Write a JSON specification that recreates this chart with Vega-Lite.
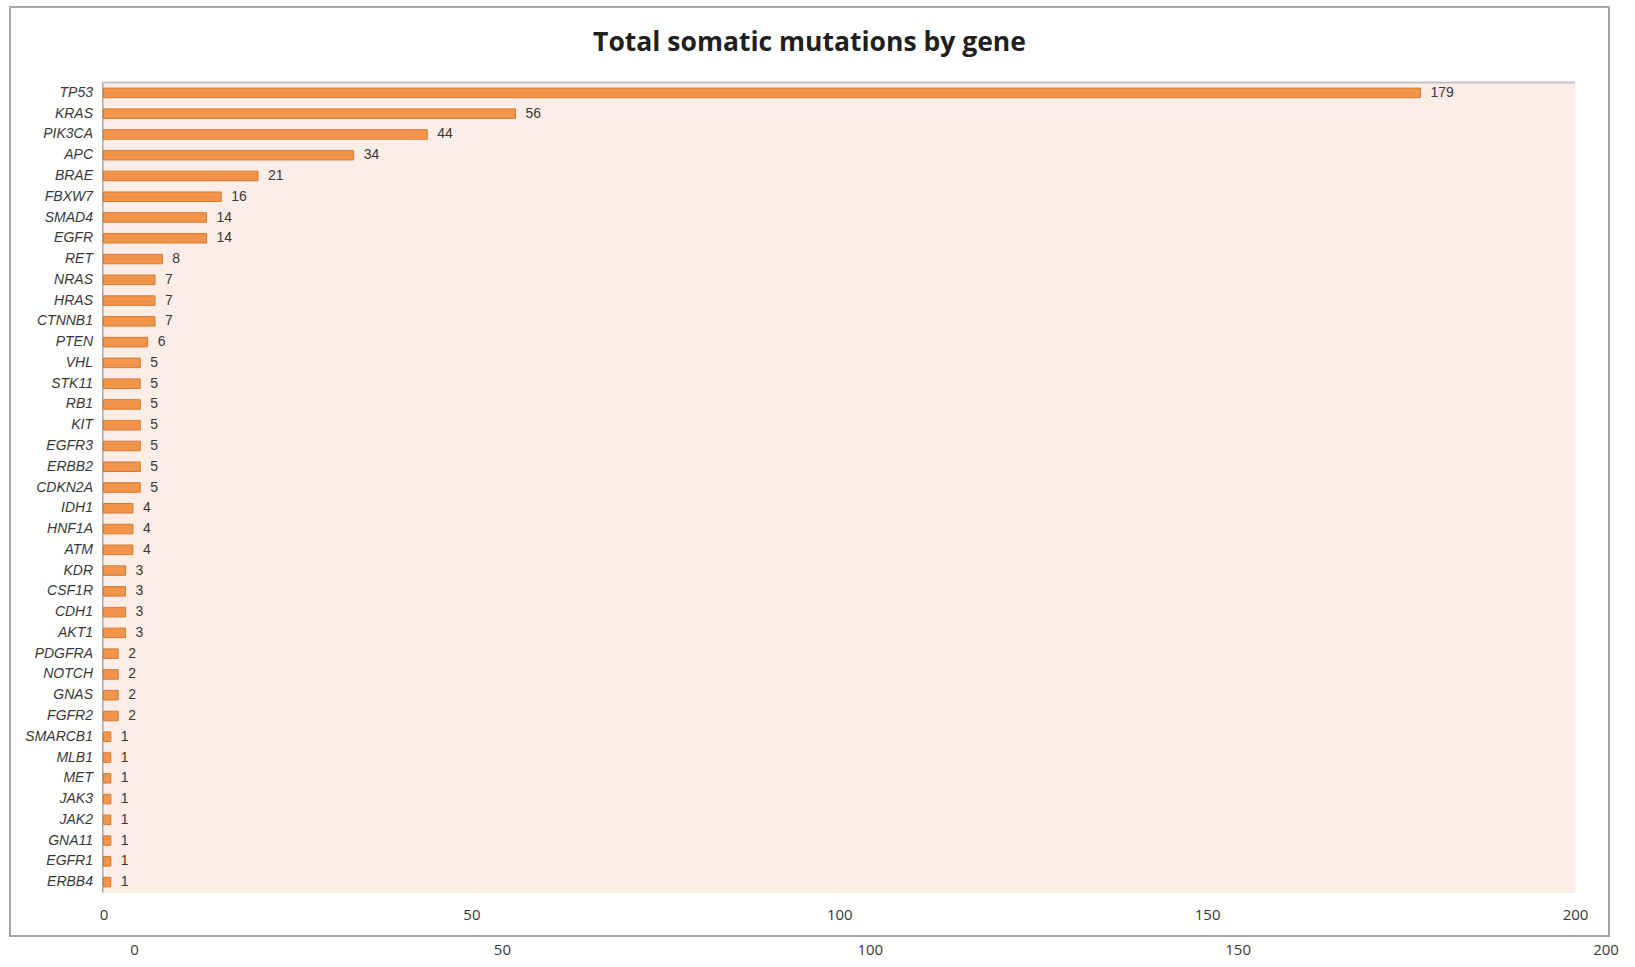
{
  "$schema": "https://vega.github.io/schema/vega-lite/v6.json",
  "width": 1599,
  "height": 929,
  "autosize": {"type": "none"},
  "padding": {"left": 10, "top": 7, "right": 26, "bottom": 31},
  "background": "white",
  "title": {
    "text": "Total somatic mutations by gene",
    "font": "Open Sans",
    "fontSize": 26.5,
    "fontWeight": "bold",
    "color": "#1f1f1f",
    "anchor": "middle",
    "frame": "group",
    "baseline": "middle",
    "offset": -62
  },
  "config": {
    "view": {"stroke": "#a6a6a6", "strokeWidth": 2, "fill": "white"}
  },
  "data": {
    "values": [
      {"gene": "TP53", "count": 179},
      {"gene": "KRAS", "count": 56},
      {"gene": "PIK3CA", "count": 44},
      {"gene": "APC", "count": 34},
      {"gene": "BRAE", "count": 21},
      {"gene": "FBXW7", "count": 16},
      {"gene": "SMAD4", "count": 14},
      {"gene": "EGFR", "count": 14},
      {"gene": "RET", "count": 8},
      {"gene": "NRAS", "count": 7},
      {"gene": "HRAS", "count": 7},
      {"gene": "CTNNB1", "count": 7},
      {"gene": "PTEN", "count": 6},
      {"gene": "VHL", "count": 5},
      {"gene": "STK11", "count": 5},
      {"gene": "RB1", "count": 5},
      {"gene": "KIT", "count": 5},
      {"gene": "EGFR3", "count": 5},
      {"gene": "ERBB2", "count": 5},
      {"gene": "CDKN2A", "count": 5},
      {"gene": "IDH1", "count": 4},
      {"gene": "HNF1A", "count": 4},
      {"gene": "ATM", "count": 4},
      {"gene": "KDR", "count": 3},
      {"gene": "CSF1R", "count": 3},
      {"gene": "CDH1", "count": 3},
      {"gene": "AKT1", "count": 3},
      {"gene": "PDGFRA", "count": 2},
      {"gene": "NOTCH", "count": 2},
      {"gene": "GNAS", "count": 2},
      {"gene": "FGFR2", "count": 2},
      {"gene": "SMARCB1", "count": 1},
      {"gene": "MLB1", "count": 1},
      {"gene": "MET", "count": 1},
      {"gene": "JAK3", "count": 1},
      {"gene": "JAK2", "count": 1},
      {"gene": "GNA11", "count": 1},
      {"gene": "EGFR1", "count": 1},
      {"gene": "ERBB4", "count": 1}
    ]
  },
  "resolve": {"axis": {"x": "independent"}},
  "layer": [
    {
      "mark": {"type": "rect", "fill": "#FCEDE7", "stroke": "#FCEDE7", "strokeWidth": 1},
      "encoding": {
        "x": {
          "datum": 0,
          "type": "quantitative",
          "scale": {"domain": [-12.708, 204.62], "nice": false, "zero": false},
          "axis": null
        },
        "x2": {"datum": 200},
        "y": {
          "field": "gene",
          "type": "nominal",
          "sort": null,
          "scale": {
            "domain": ["TP53", "KRAS", "PIK3CA", "APC", "BRAE", "FBXW7", "SMAD4", "EGFR", "RET", "NRAS", "HRAS", "CTNNB1", "PTEN", "VHL", "STK11", "RB1", "KIT", "EGFR3", "ERBB2", "CDKN2A", "IDH1", "HNF1A", "ATM", "KDR", "CSF1R", "CDH1", "AKT1", "PDGFRA", "NOTCH", "GNAS", "FGFR2", "SMARCB1", "MLB1", "MET", "JAK3", "JAK2", "GNA11", "EGFR1", "ERBB4"],
            "range": [75.5, 885.5],
            "paddingInner": 0,
            "paddingOuter": 0
          },
          "axis": {
            "title": null,
            "domain": false,
            "ticks": false,
            "grid": false,
            "offset": -93.5,
            "labelPadding": 11,
            "labelFont": "Liberation Sans",
            "labelFontStyle": "italic",
            "labelFontSize": 14,
            "labelColor": "#383838"
          }
        }
      }
    },
    {
      "mark": {"type": "rect", "fill": "#a6a6a6"},
      "encoding": {
        "x": {"datum": -0.2, "type": "quantitative", "axis": null},
        "x2": {"datum": 0},
        "y": {"field": "gene", "type": "nominal", "sort": null}
      }
    },
    {
      "transform": [{"filter": "datum.gene === 'TP53'"}],
      "mark": {"type": "rule", "stroke": "#c3c3c3", "strokeWidth": 2},
      "encoding": {
        "x": {"datum": 0, "type": "quantitative", "axis": null},
        "x2": {"datum": 200},
        "y": {"field": "gene", "type": "nominal", "sort": null, "bandPosition": 0}
      }
    },
    {
      "mark": {
        "type": "bar",
        "height": {"band": 0.46},
        "fill": "#F2954B",
        "stroke": "#D47C37",
        "strokeWidth": 1
      },
      "encoding": {
        "x": {
          "field": "count",
          "type": "quantitative",
          "axis": {
            "title": null,
            "orient": "bottom",
            "values": [0, 50, 100, 150, 200],
            "domain": false,
            "ticks": false,
            "grid": false,
            "offset": -43.5,
            "labelPadding": 15,
            "labelFont": "Open Sans",
            "labelFontSize": 15,
            "labelColor": "#383838"
          }
        },
        "y": {"field": "gene", "type": "nominal", "sort": null}
      }
    },
    {
      "mark": {
        "type": "text",
        "align": "left",
        "baseline": "middle",
        "dx": 10,
        "font": "Liberation Sans",
        "fontSize": 14,
        "fill": "#383838"
      },
      "encoding": {
        "x": {
          "field": "count",
          "type": "quantitative",
          "axis": {
            "title": null,
            "orient": "bottom",
            "values": [0, 50, 100, 150, 200],
            "domain": false,
            "ticks": false,
            "grid": false,
            "translate": 31,
            "offset": -39.5,
            "labelPadding": 15,
            "labelFont": "Open Sans",
            "labelFontSize": 15,
            "labelColor": "#383838"
          }
        },
        "y": {"field": "gene", "type": "nominal", "sort": null},
        "text": {"field": "count", "type": "quantitative"}
      }
    }
  ]
}
